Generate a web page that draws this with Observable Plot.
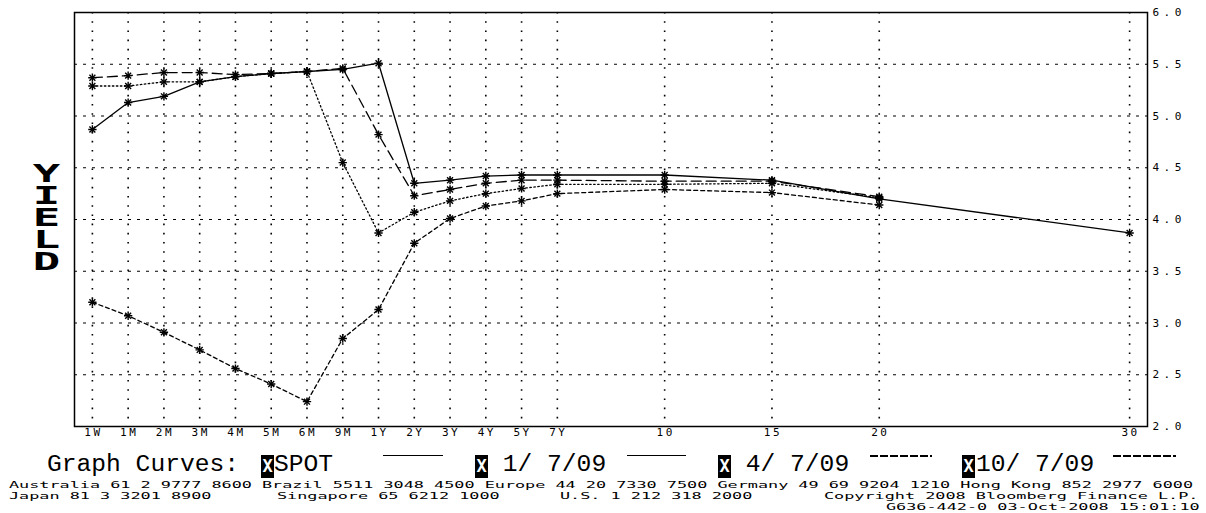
<!DOCTYPE html>
<html>
<head>
<meta charset="utf-8">
<script src="https://cdn.jsdelivr.net/npm/d3@7"></script>
<script src="https://cdn.jsdelivr.net/npm/@observablehq/plot@0.6"></script>
<style>
  html, body { margin: 0; padding: 0; background: #fff; }
  #page { position: relative; width: 1206px; height: 513px; overflow: hidden; background: #fff; color: #000; }
  #chart svg { display: block; }
  #chart g[aria-label="x-axis tick label"] text { letter-spacing: 2.5px; }
  #chart g[aria-label="y-axis tick label"] text { letter-spacing: 4.5px; }
  .abs { position: absolute; white-space: pre; }
  .big { font-family: "Liberation Mono", "DejaVu Sans Mono", monospace; font-size: 23px; line-height: 23px; top: 454.4px; transform: scaleX(1.07); transform-origin: 0 0; }
  .box { top: 455px; width: 13px; height: 23px; background: #000; color: #fff; font-family: "DejaVu Sans Mono", monospace; font-weight: bold; font-size: 17px; line-height: 23px; text-align: center; }
  .sample { top: 455px; height: 0; border-top: 1.5px solid #000; }
  .sample.dash { border-top: none; height: 1.5px; background: repeating-linear-gradient(90deg, #000 0 8px, transparent 8px 10px); }
  .small { font-family: "DejaVu Sans Mono", monospace; font-size: 9.4px; line-height: 11px; transform: scaleX(1.793); transform-origin: 0 0; }
  #yield { position: absolute; left: 33px; top: 163px; width: 27px; white-space: pre-line; font-family: "DejaVu Sans Mono", monospace; font-weight: bold; font-size: 24px; line-height: 22px; text-align: center; transform: scaleX(1.9); transform-origin: 50% 0; }
</style>
</head>
<body>
<div id="page">
  <div id="chart"></div>
  <div id="yield"></div>
  <div id="footer"></div>
</div>
<script>
// ---- data ----
const tenors = ["1W","1M","2M","3M","4M","5M","6M","9M","1Y","2Y","3Y","4Y","5Y","7Y","10","15","20","30"];
const tenorSlot = [0,1,2,3,4,5,6,7,8,9,10,11,12,13,16,19,22,29];
const spot  = [4.87,5.13,5.19,5.33,5.38,5.41,5.43,5.45,5.51,4.35,4.38,4.42,4.43,4.43,4.43,4.38,4.20,3.87];
const fwd1  = [5.37,5.39,5.42,5.42,5.40,5.41,5.43,5.46,4.82,4.23,4.29,4.35,4.38,4.38,4.37,4.37,4.22,null];
const fwd4  = [5.29,5.29,5.33,5.33,5.38,5.41,5.43,4.55,3.87,4.07,4.18,4.25,4.30,4.34,4.34,4.35,4.21,null];
const fwd10 = [3.20,3.07,2.91,2.74,2.56,2.41,2.24,2.85,3.13,3.77,4.01,4.13,4.18,4.25,4.29,4.26,4.14,null];
const seriesNames = ["SPOT","1/ 7/09","4/ 7/09","10/ 7/09"];
const yTicks = [2.0,2.5,3.0,3.5,4.0,4.5,5.0,5.5,6.0];
const yGrid = [2.5,3.0,3.5,4.0,4.5,5.0,5.5];
const axisTitle = "YIELD";
const legendTitle = "Graph Curves:";
const footerLine1 = "Australia 61 2 9777 8600 Brazil 5511 3048 4500 Europe 44 20 7330 7500 Germany 49 69 9204 1210 Hong Kong 852 2977 6000";
const footerLine2 = ["Japan 81 3 3201 8900", "Singapore 65 6212 1000", "U.S. 1 212 318 2000", "Copyright 2008 Bloomberg Finance L.P."];
const footerLine3 = "G636-442-0 03-Oct-2008 15:01:10";

// ---- build table ----
const seriesValues = [spot, fwd1, fwd4, fwd10];
const table = [];
seriesValues.forEach((arr, k) => arr.forEach((v, i) => table.push({slot: tenorSlot[i], y: v, series: seriesNames[k]})));

const dashes = {"SPOT": null, "1/ 7/09": "10,5", "4/ 7/09": "1.5,2.5", "10/ 7/09": "4,3"};

const chart = Plot.plot({
  width: 1206,
  height: 445,
  marginTop: 12,
  marginLeft: 74,
  marginRight: 59,
  marginBottom: 19,
  style: {fontFamily: "DejaVu Sans Mono, monospace", fontSize: "11px", background: "#fff", color: "#000", overflow: "visible"},
  x: {domain: [-0.5, 29.5], axis: null},
  y: {domain: [2, 6], axis: null},
  marks: [
    Plot.gridY(yGrid, {stroke: "#000", strokeOpacity: 1, strokeWidth: 1, strokeDasharray: "3,6"}),
    Plot.gridX(tenorSlot, {stroke: "#000", strokeOpacity: 1, strokeWidth: 1.6, strokeDasharray: "1.6,7.6"}),
    ...seriesNames.map(s => Plot.line(table.filter(d => d.series === s), {
      x: "slot", y: "y", stroke: "#000", strokeWidth: 1.3, strokeDasharray: dashes[s]
    })),
    Plot.dot(table, {x: "slot", y: "y", symbol: "plus", r: 2.8, stroke: "#000", strokeWidth: 1.4}),
    Plot.dot(table, {x: "slot", y: "y", symbol: "times", r: 2.8, stroke: "#000", strokeWidth: 1.4}),
    Plot.frame({stroke: "#000", strokeWidth: 1.5}),
    Plot.axisX(tenorSlot, {tickSize: 0, tickPadding: 2, fontSize: 11, dx: 1, label: null,
      tickFormat: d => tenors[tenorSlot.indexOf(d)]}),
    Plot.axisY(yTicks, {anchor: "right", tickSize: 0, tickPadding: 5, fontSize: 11, label: null,
      tickFormat: d3.format(".1f")})
  ]
});
document.getElementById("chart").appendChild(chart);

// ---- vertical axis title (one text block, one letter per line) ----
document.getElementById("yield").textContent = axisTitle.split("").join("\n");

// ---- legend and footer ----
const footer = document.getElementById("footer");
function add(cls, text, left, extra) {
  const el = document.createElement("div");
  el.className = "abs " + cls;
  el.textContent = text;
  el.style.left = left + "px";
  if (extra) Object.assign(el.style, extra);
  footer.appendChild(el);
  return el;
}
add("big", legendTitle, 47);
const legendBoxes = [261, 475, 718, 962];
const legendText = [274, 488, 731, 976];
const legendSample = [[383, 60, false], [627, 59, false], [870, 62, true], [1113, 63, true]];
seriesNames.forEach((s, i) => {
  add("box", "X", legendBoxes[i]);
  add("big", (s.length === 7 ? " " : "") + s, legendText[i]);
  const [l, w, dashed] = legendSample[i];
  add("sample" + (dashed ? " dash" : ""), "", l, {width: w + "px"});
});
add("small", footerLine1, 9, {top: "479px"});
const line2x = [9, 277, 560, 824];
footerLine2.forEach((t, i) => add("small", t, line2x[i], {top: "490px"}));
add("small", footerLine3, 886, {top: "501px"});
</script>
</body>
</html>
